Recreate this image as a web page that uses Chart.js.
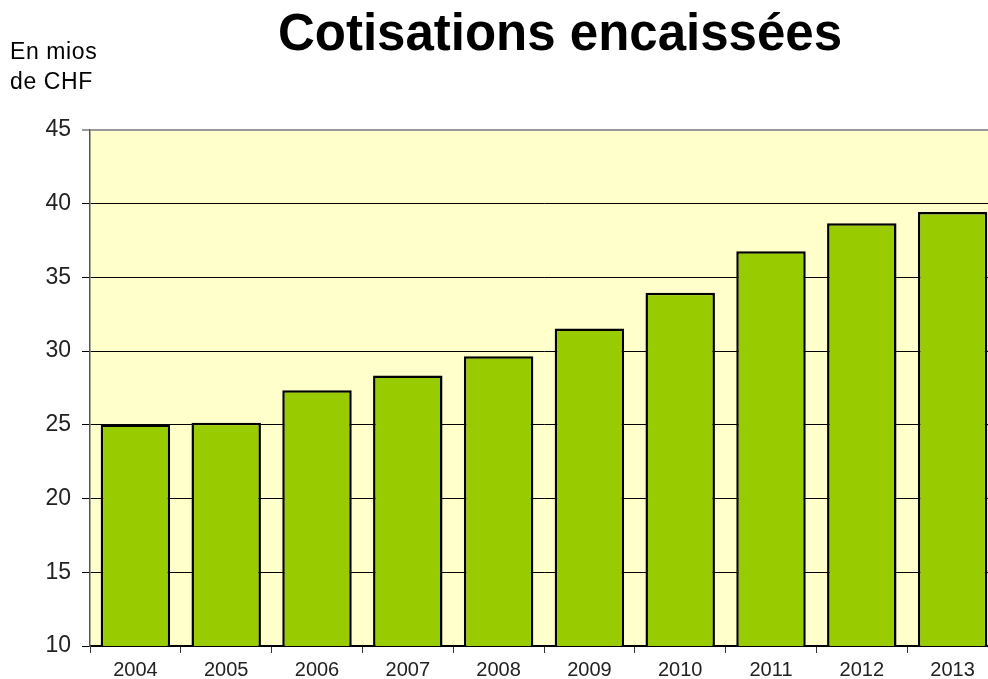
<!DOCTYPE html>
<html>
<head>
<meta charset="utf-8">
<script src="https://cdn.jsdelivr.net/npm/chart.js@4/dist/chart.umd.min.js"></script>
<style>
  html, body { margin:0; padding:0; background:#fff; overflow:hidden; }
  #wrap { position:relative; width:988px; height:679px; overflow:hidden; }
  #box { position:absolute; left:0; top:0; width:998px; height:679px; }
  #title { position:absolute; left:0; width:1120px; top:3px; text-align:center; line-height:60px;
    font-family:"Liberation Sans", Arial, sans-serif; font-weight:bold; font-size:51px; color:#000; }
  #unit { position:absolute; left:10px; top:36px; font-family:"Liberation Sans", Arial, sans-serif;
    font-size:23px; letter-spacing:0.6px; line-height:30px; color:#000; }
</style>
</head>
<body>
<div id="wrap">
  <div id="box"><canvas id="Charts"></canvas></div>
  <div id="title">Cotisations encaissées</div>
  <div id="unit">En mios<br>de CHF</div>
</div>
<script>
var years = ['2004','2005','2006','2007','2008','2009','2010','2011','2012','2013'];
var cotisations = [25.03, 25.14, 27.35, 28.35, 29.66, 31.54, 33.96, 36.78, 38.68, 39.43];
var yTicks = [10, 15, 20, 25, 30, 35, 40, 45];

// fond jaune de la zone du graphique
var plotBg = {
  id: 'plotBg',
  beforeDraw: function(chart){
    var a = chart.chartArea;
    var c = chart.ctx;
    c.save();
    c.fillStyle = '#FFFFCC';
    c.fillRect(a.left, a.top, a.right - a.left, a.bottom - a.top);
    c.restore();
  }
};

var ctx = document.getElementById('Charts').getContext('2d');
var myChart = new Chart(ctx, {
  type: 'bar',
  data: {
    labels: years,
    datasets: [{
      data: cotisations,
      backgroundColor: '#99CC00',
      borderColor: '#000000',
      borderWidth: 2.5,
      borderSkipped: false,
      barPercentage: 0.765,
      categoryPercentage: 1
    }]
  },
  options: {
    responsive: true,
    maintainAspectRatio: false,
    animation: false,
    layout: { padding: { top: 130, right: 0, left: 0, bottom: 0 } },
    plugins: { legend: { display: false }, tooltip: { enabled: false } },
    scales: {
      x: {
        offset: true,
        grid: { offset: true, drawOnChartArea: false, color: '#333', tickLength: 7 },
        border: { color: '#000', width: 1.5 },
        ticks: { color: '#222', font: { family: 'Liberation Sans', size: 20 }, padding: 5 },
        afterFit: function(s){ s.height = 33; }
      },
      y: {
        min: 10, max: 45,
        afterBuildTicks: function(s){ s.ticks = yTicks.map(function(v){ return {value: v}; }); },
        grid: {
          color: function(c){ return c.tick && c.tick.value === 45 ? '#9a9a9a' : '#000'; },
          lineWidth: function(c){ return c.tick && c.tick.value === 45 ? 2 : 1; },
          tickLength: 8
        },
        border: { color: '#555', width: 1.5 },
        ticks: { color: '#222', font: { family: 'Liberation Sans', size: 23 }, padding: 11 },
        afterFit: function(s){ s.width = 90; }
      }
    }
  },
  plugins: [plotBg]
});
</script>
</body>
</html>
